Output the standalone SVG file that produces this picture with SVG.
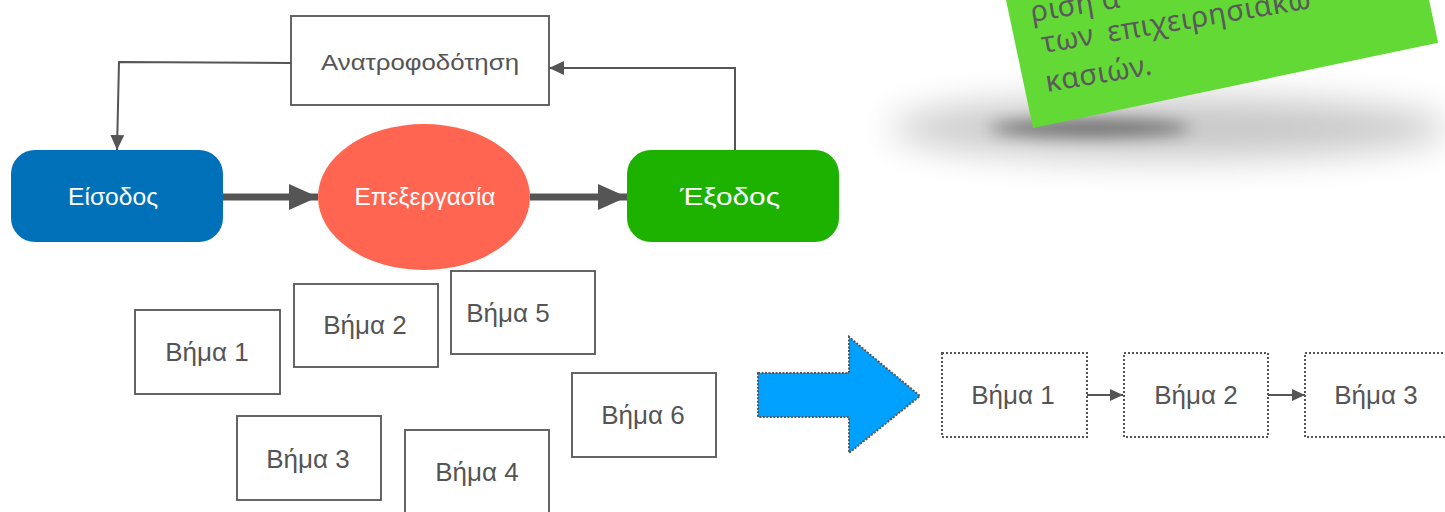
<svg xmlns="http://www.w3.org/2000/svg" width="1445" height="512" viewBox="0 0 1445 512">
<style>
.box{fill:#fff;stroke:#555;stroke-width:1.8}
.dbox{fill:#fff;stroke:#555;stroke-width:2;stroke-dasharray:2 2}
.t{font-family:"Liberation Sans",Arial,sans-serif;fill:#555;text-anchor:middle;dominant-baseline:central}
.step{font-size:26px}
.w{fill:#fff;font-size:23px}
.thin{fill:none;stroke:#555;stroke-width:2}
.thick{fill:none;stroke:#555;stroke-width:7}
.note{font-family:"Noto Sans","DejaVu Sans",sans-serif;font-size:29px;fill:#5a5a5a;letter-spacing:0.5px}
</style>
<defs>
<marker id="ah" markerUnits="userSpaceOnUse" markerWidth="16" markerHeight="14" refX="15" refY="7" orient="auto"><path d="M0,0 L15,7 L0,14 Z" fill="#555"/></marker>
<marker id="ahs" markerUnits="userSpaceOnUse" markerWidth="14" markerHeight="14" refX="13" refY="7" orient="auto"><path d="M0,1 L13,7 L0,13 Z" fill="#555"/></marker>
<marker id="ahb" markerUnits="userSpaceOnUse" markerWidth="30" markerHeight="28" refX="29" refY="14" orient="auto"><path d="M0,1 L29,14 L0,27 Z" fill="#555"/></marker>
<filter id="blur" x="-50%" y="-200%" width="200%" height="500%"><feGaussianBlur stdDeviation="18"/></filter>
<filter id="blur2" x="-50%" y="-200%" width="200%" height="500%"><feGaussianBlur stdDeviation="8"/></filter>
</defs>

<g id="note-shadow">
<ellipse cx="1170" cy="128" rx="280" ry="30" fill="#000" opacity="0.22" filter="url(#blur)"/>
<ellipse cx="1090" cy="128" rx="100" ry="9" fill="#000" opacity="0.45" filter="url(#blur2)"/>
</g>
<g id="note">
<rect x="0" y="-220" width="414" height="220" fill="#62d935" transform="translate(1033,128) rotate(-11.9)"/>
<text class="note" transform="translate(1032,22) rotate(-9.5)">ριση α</text>
<text class="note" transform="translate(1043,53) rotate(-9.5)" word-spacing="6">των επιχειρησιακώ</text>
<text class="note" transform="translate(1047,92) rotate(-9.5)">κασιών.</text>
</g>

<g id="connectors">
<path class="thin" d="M291,63 L119,62 L117,150" marker-end="url(#ah)"/>
<path class="thin" d="M735,150 L735,68 L549,68" marker-end="url(#ah)"/>
<path class="thick" d="M223,197 L318,197" marker-end="url(#ahb)"/>
<path class="thick" d="M530,197 L627,197" marker-end="url(#ahb)"/>
<path class="thin" d="M1087,395 L1123,395" marker-end="url(#ahs)"/>
<path class="thin" d="M1268,395 L1305,395" marker-end="url(#ahs)"/>
</g>

<g id="feedback"><rect class="box" x="291" y="16" width="258" height="89"/><text class="t" x="420" y="62" font-size="22" textLength="198" lengthAdjust="spacingAndGlyphs">Ανατροφοδότηση</text></g>
<g id="input"><rect x="11" y="150" width="212" height="92" rx="24" fill="#0071b9"/><text class="t w" x="113" y="197" textLength="90" lengthAdjust="spacingAndGlyphs">Είσοδος</text></g>
<g id="process"><ellipse cx="424" cy="197" rx="106" ry="73" fill="#ff6550"/><text class="t w" x="425" y="197" textLength="141" lengthAdjust="spacingAndGlyphs">Επεξεργασία</text></g>
<g id="output"><rect x="627" y="150" width="212" height="92" rx="24" fill="#1eb200"/><text class="t w" x="730" y="197" textLength="100" lengthAdjust="spacingAndGlyphs">Έξοδος</text></g>

<g id="step1"><rect class="box" x="135" y="310" width="145" height="84"/><text class="t step" x="207" y="352">Βήμα 1</text></g>
<g id="step2"><rect class="box" x="294" y="284" width="144" height="83"/><text class="t step" x="365" y="325">Βήμα 2</text></g>
<g id="step5"><rect class="box" x="451" y="271" width="144" height="83"/><text class="t step" x="508" y="313">Βήμα 5</text></g>
<g id="step6"><rect class="box" x="572" y="373" width="144" height="84"/><text class="t step" x="643" y="415">Βήμα 6</text></g>
<g id="step3"><rect class="box" x="237" y="416" width="144" height="84"/><text class="t step" x="308" y="459">Βήμα 3</text></g>
<g id="step4"><rect class="box" x="405" y="430" width="144" height="90"/><text class="t step" x="477" y="472">Βήμα 4</text></g>

<g id="big-arrow"><polygon points="758,373 849,373 849,337 920,396 849,453 849,417 758,417" fill="#00a0ff" stroke="#555" stroke-width="2" stroke-dasharray="2 1.5"/></g>

<g id="seq1"><rect class="dbox" x="942" y="353" width="145" height="84"/><text class="t step" x="1013" y="395">Βήμα 1</text></g>
<g id="seq2"><rect class="dbox" x="1124" y="353" width="144" height="84"/><text class="t step" x="1196" y="395">Βήμα 2</text></g>
<g id="seq3"><rect class="dbox" x="1305" y="353" width="150" height="84"/><text class="t step" x="1376" y="395">Βήμα 3</text></g>
</svg>
